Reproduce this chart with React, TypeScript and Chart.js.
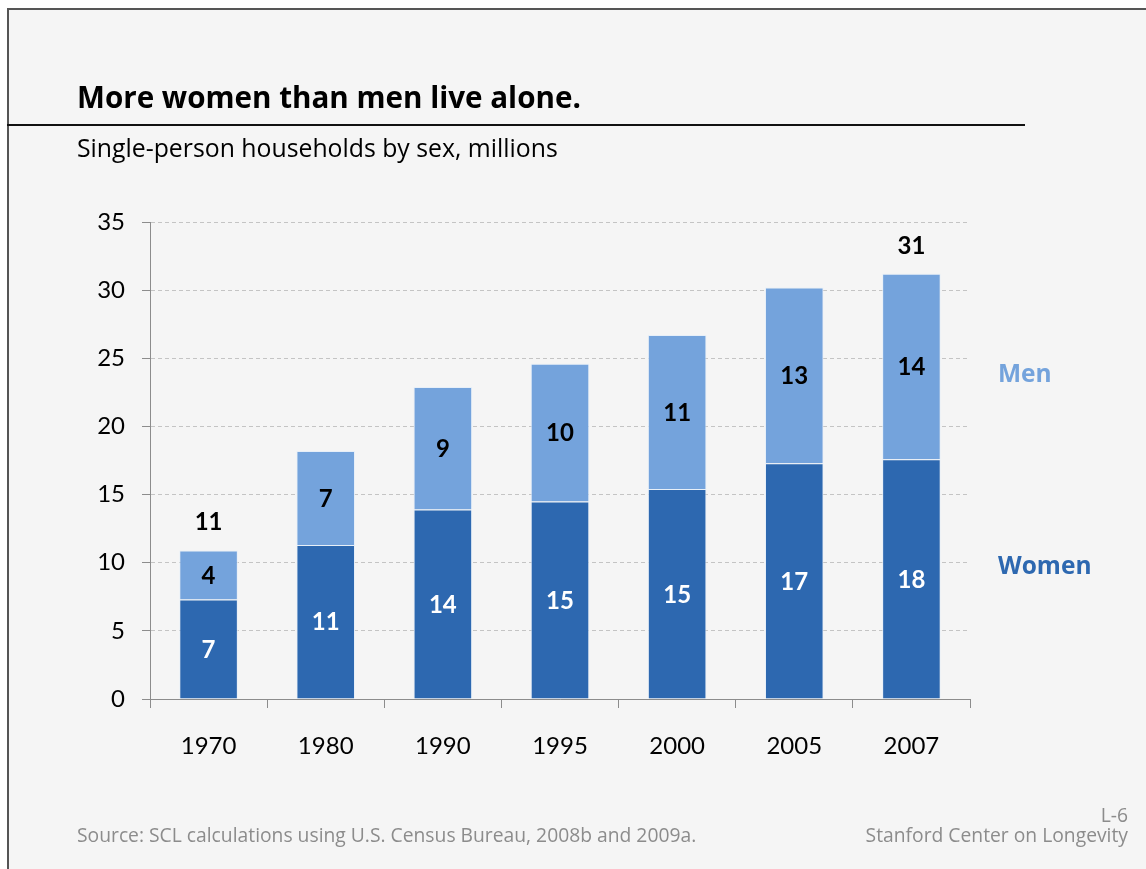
import React, { useEffect, useRef } from "react";
import { Chart, registerables } from "chart.js";

Chart.register(...registerables);

const years = ["1970", "1980", "1990", "1995", "2000", "2005", "2007"];
const women = [7.3, 11.3, 13.9, 14.5, 15.4, 17.3, 17.6];
const men = [3.6, 6.9, 9.0, 10.1, 11.3, 12.9, 13.6];
const showTotal = [true, false, false, false, false, false, true];
const yTicks = [0, 5, 10, 15, 20, 25, 30, 35];

const WOMEN_COLOR = "#2d68b0";
const MEN_COLOR = "#74a3dc";
const NUM_FONT = "Lato";
const TEXT_FONT = "'Open Sans'";

const labelPlugin = {
  id: "barLabels",
  afterDatasetsDraw(chart: any) {
    const ctx = chart.ctx;
    ctx.save();
    ctx.textAlign = "center";
    ctx.textBaseline = "middle";
    ctx.font = `bold 24px ${NUM_FONT}`;
    chart.data.datasets.forEach((ds: any, di: number) => {
      const meta = chart.getDatasetMeta(di);
      meta.data.forEach((el: any, i: number) => {
        const p = el.getProps(["x", "y", "base"], true);
        ctx.fillStyle = di === 0 ? "#ffffff" : "#000000";
        ctx.fillText(String(Math.round(ds.data[i])), p.x, (p.y + p.base) / 2 + 1);
      });
    });
    const top = chart.getDatasetMeta(1);
    top.data.forEach((el: any, i: number) => {
      if (!showTotal[i]) return;
      const p = el.getProps(["x", "y"], true);
      ctx.fillStyle = "#000000";
      ctx.fillText(String(Math.round(women[i] + men[i])), p.x, p.y - 28);
    });
    ctx.restore();
  },
};

export default function App() {
  const canvasRef = useRef<HTMLCanvasElement | null>(null);

  useEffect(() => {
    if (!canvasRef.current) return;
    const chart = new Chart(canvasRef.current, {
      type: "bar",
      data: {
        labels: years,
        datasets: [
          {
            label: "Women",
            data: women,
            backgroundColor: WOMEN_COLOR,
            borderColor: "rgba(230,238,248,0.9)",
            borderWidth: 1,
            barPercentage: 0.5,
            categoryPercentage: 1,
          },
          {
            label: "Men",
            data: men,
            backgroundColor: MEN_COLOR,
            borderColor: "rgba(230,238,248,0.9)",
            borderWidth: 1,
            barPercentage: 0.5,
            categoryPercentage: 1,
          },
        ],
      },
      options: {
        responsive: false,
        animation: false,
        layout: { padding: { top: 222, right: 176, left: 0, bottom: 0 } },
        plugins: { legend: { display: false }, tooltip: { enabled: false } },
        scales: {
          x: {
            stacked: true,
            afterFit(scale: any) {
              scale.height = 170;
            },
            grid: {
              offset: true,
              drawOnChartArea: false,
              tickLength: 9,
              tickColor: "#8c8c8c",
              tickWidth: 1,
            },
            border: { color: "#8c8c8c", width: 1 },
            ticks: {
              color: "#000",
              font: { family: NUM_FONT, size: 24 },
              padding: 24,
            },
          },
          y: {
            stacked: true,
            min: 0,
            max: 35,
            afterFit(scale: any) {
              scale.width = 150;
            },
            afterBuildTicks(scale: any) {
              scale.ticks = yTicks.map((v) => ({ value: v }));
            },
            grid: {
              color: "#c4c4c4",
              lineWidth: 1,
              tickLength: 8,
              tickColor: "#8c8c8c",
              tickBorderDash: [],
            },
            border: { color: "#8c8c8c", width: 1, dash: [4, 3] },
            ticks: {
              color: "#000",
              font: { family: NUM_FONT, size: 24 },
              padding: 17,
            },
          },
        },
      },
      plugins: [labelPlugin],
    } as any);
    return () => chart.destroy();
  }, []);

  const text = (style: React.CSSProperties, content: string) => (
    <div style={{ position: "absolute", whiteSpace: "nowrap", lineHeight: 1, fontFamily: TEXT_FONT, ...style }}>
      {content}
    </div>
  );

  return (
    <div style={{ position: "absolute", left: 0, top: 0, width: 1146, height: 869, background: "#ffffff", overflow: "hidden" }}>
      <div
        style={{
          position: "absolute",
          left: 7,
          top: 8,
          width: 1200,
          height: 900,
          background: "#f5f5f5",
          borderLeft: "2px solid #555",
          borderTop: "2px solid #555",
        }}
      />
      <div style={{ position: "absolute", left: 7, top: 124, width: 1018, height: 2, background: "#111" }} />
      <canvas ref={canvasRef} width={1146} height={869} style={{ position: "absolute", left: 0, top: 0 }} />
      {text({ left: 77, top: 81.5, fontSize: 29.6, fontWeight: 700, color: "#000" }, "More women than men live alone.")}
      {text({ left: 77, top: 135, fontSize: 24.8, color: "#000" }, "Single-person households by sex, millions")}
      {text({ left: 998, top: 361, fontSize: 24.5, fontWeight: 700, color: MEN_COLOR }, "Men")}
      {text({ left: 998, top: 553, fontSize: 24.5, fontWeight: 700, color: WOMEN_COLOR }, "Women")}
      {text({ left: 77, top: 825, fontSize: 19.3, color: "#8c8c8c" }, "Source: SCL calculations using U.S. Census Bureau, 2008b and 2009a.")}
      {text({ right: 18, top: 805, fontSize: 19.3, color: "#8c8c8c", textAlign: "right" }, "L-6")}
      {text({ right: 18, top: 825, fontSize: 19.3, color: "#8c8c8c", textAlign: "right" }, "Stanford Center on Longevity")}
    </div>
  );
}
